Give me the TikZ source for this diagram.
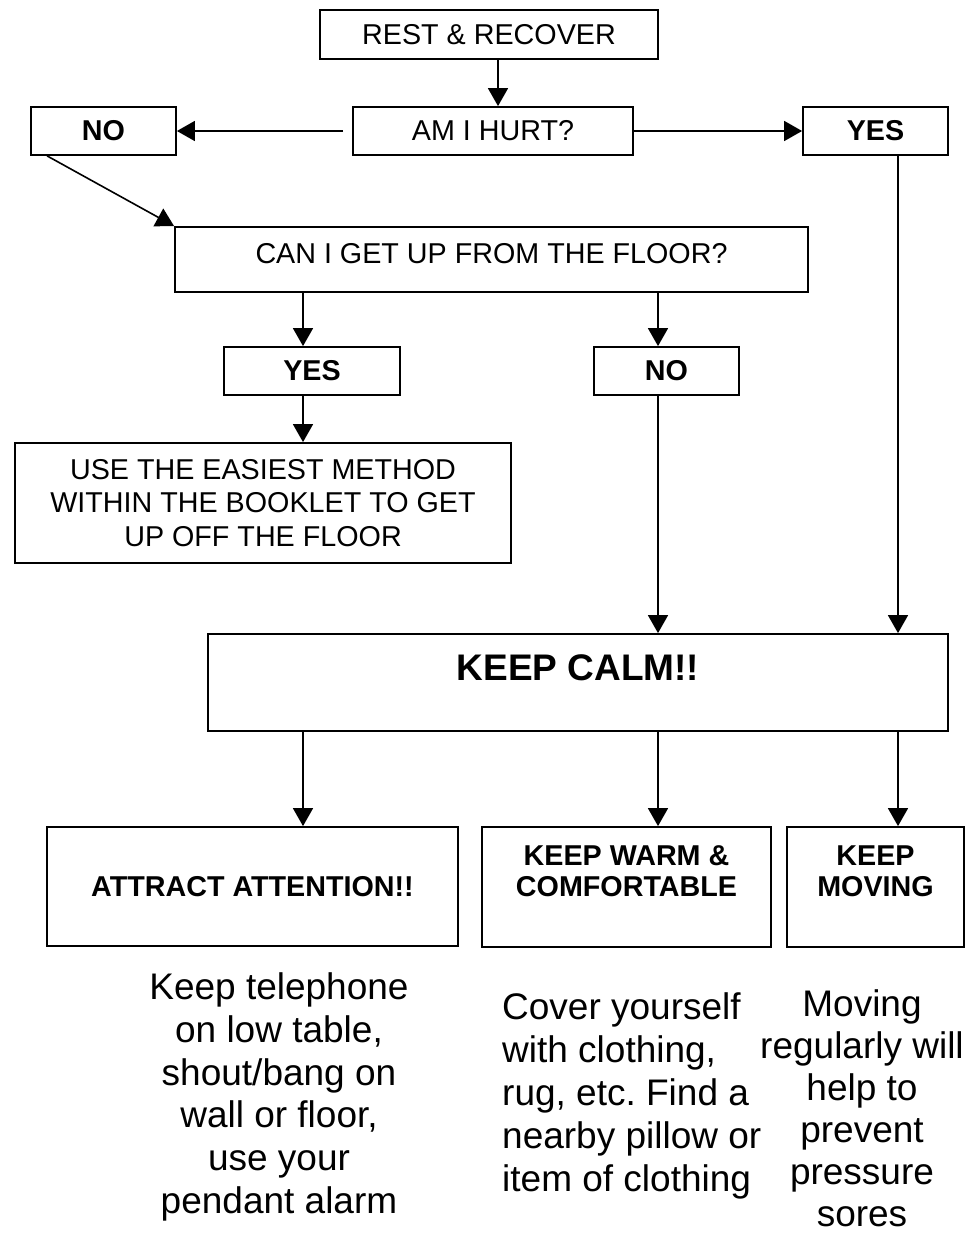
\documentclass[tikz,border=0pt]{standalone}
\usepackage{fontspec}
\setmainfont{Liberation Sans}
\usetikzlibrary{arrows.meta}
\frenchspacing
\begin{document}
\begin{tikzpicture}[x=1pt,y=-1pt,
  box/.style={draw, line width=1.8pt, inner sep=0pt, align=center, font=\fontsize{28.7}{33.5}\selectfont},
  bbox/.style={box, font=\fontsize{28.7}{31}\selectfont\bfseries},
  arr/.style={line width=1.6pt, -{Triangle[length=18pt,width=20pt]}},
  note/.style={inner sep=0pt, font=\fontsize{37}{42.8}\selectfont}]
\path[use as bounding box] (0,0) rectangle (966,1239);
% column coordinates
\coordinate (c1) at (303,0);
\coordinate (c2) at (658,0);
\coordinate (c3) at (898,0);
\coordinate (c0) at (498,0);
% boxes
\node[box, minimum width=338pt, minimum height=49pt] (rest) at (489,34.5) {REST \& RECOVER};
\node[box, minimum width=280pt, minimum height=48pt] (hurt) at (493,131) {AM I HURT?};
\node[bbox, minimum width=145pt, minimum height=48pt] (no1) at (103.5,131) {NO};
\node[bbox, minimum width=145pt, minimum height=48pt] (yes1) at (875.5,131) {YES};
\node[box, minimum width=633pt, minimum height=65pt, text height=20.5pt, text depth=13pt] (can) at (491.5,259.5) {CAN I GET UP FROM THE FLOOR?};
\node[bbox, minimum width=176pt, minimum height=48pt] (yes2) at (312,371) {YES};
\node[bbox, minimum width=145pt, minimum height=48pt] (no2) at (666.5,371) {NO};
\node[box, minimum width=496pt, minimum height=120pt] (use) at (263,503) {USE THE EASIEST METHOD\\WITHIN THE BOOKLET TO GET\\UP OFF THE FLOOR};
\node[box, minimum width=740pt, minimum height=97pt, text height=26.5pt, text depth=31pt, font=\fontsize{37}{42}\selectfont\bfseries] (calm) at (578,682.5) {KEEP CALM!!};
\node[bbox, minimum width=411pt, minimum height=119pt] (attract) at (252.5,886.5) {ATTRACT ATTENTION!!};
\node[bbox, minimum width=289pt, minimum height=120pt] (warm) at (626.5,887) {KEEP WARM \&\\COMFORTABLE\\\mbox{}};
\node[bbox, minimum width=177pt, minimum height=120pt] (moving) at (875.5,887) {KEEP\\MOVING\\\mbox{}};
% notes
\node[note, align=center] (tel) at (279,1097) {Keep telephone\\on low table,\\shout/bang on\\wall or floor,\\use your\\pendant alarm};
\node[note, align=left, anchor=west] (cover) at (502,1096) {Cover yourself\\with clothing,\\rug, etc. Find a\\nearby pillow or\\item of clothing};
\node[note, align=center, font=\fontsize{37}{42}\selectfont] (movetxt) at (862,1108) {Moving\\regularly will\\help to\\prevent\\pressure\\sores};
% connectors
\draw[arr] (rest.south -| c0) -- (hurt.north -| c0);
\draw[arr] ([xshift=-9pt]hurt.west) -- (no1.east);
\draw[arr] (hurt.east) -- (yes1.west);
\draw[arr] ([xshift=17pt]no1.south west) -- (can.north west);
\draw[arr] (can.south -| c1) -- (yes2.north -| c1);
\draw[arr] (can.south -| c2) -- (no2.north -| c2);
\draw[arr] (yes2.south -| c1) -- (use.north -| c1);
\draw[arr] (no2.south -| c2) -- (calm.north -| c2);
\draw[arr] (yes1.south -| c3) -- (calm.north -| c3);
\draw[arr] (calm.south -| c1) -- (attract.north -| c1);
\draw[arr] (calm.south -| c2) -- (warm.north -| c2);
\draw[arr] (calm.south -| c3) -- (moving.north -| c3);
\end{tikzpicture}
\end{document}
